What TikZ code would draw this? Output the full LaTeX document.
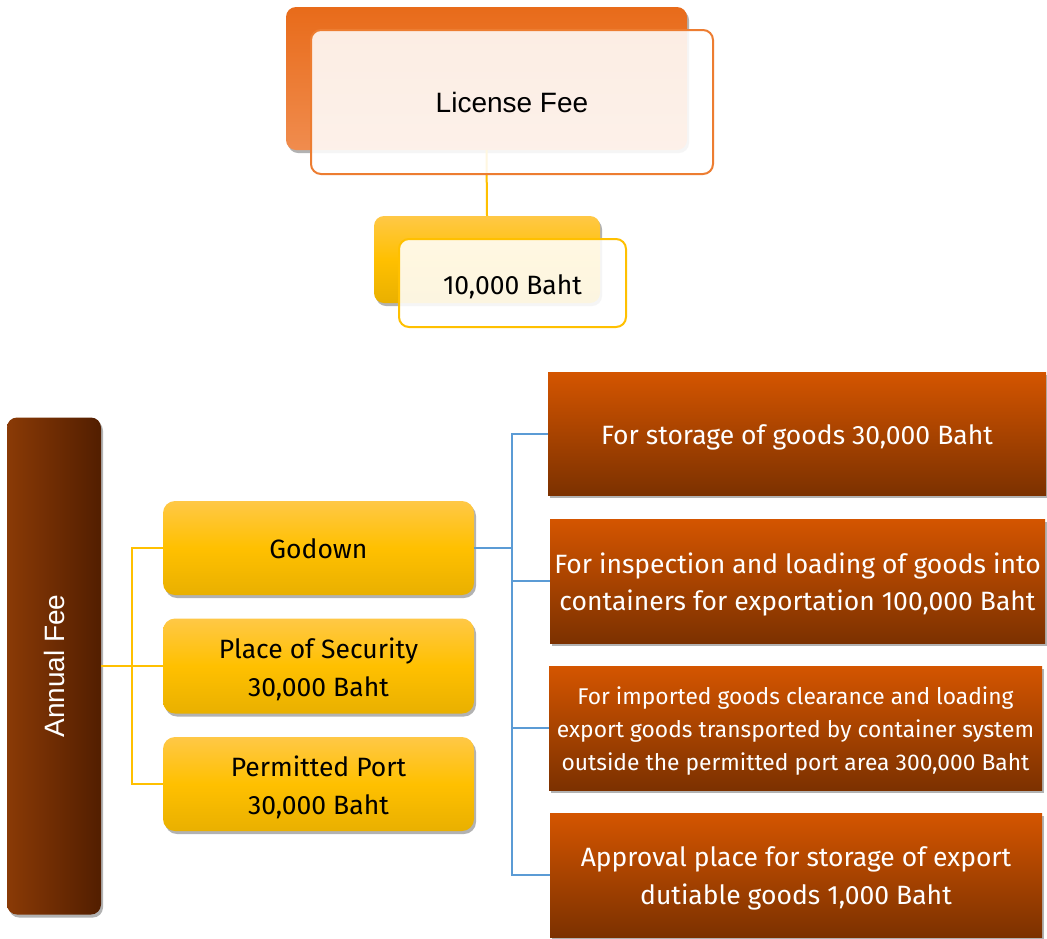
\documentclass[tikz,border=0pt]{standalone}
\usepackage{fontspec}
\setmainfont{Liberation Sans}
\newfontfamily\boxfont{Fira Sans}
\usetikzlibrary{shadows,calc}

\definecolor{orangeTop}{HTML}{E86B1A}
\definecolor{orangeBot}{HTML}{F08C4E}
\definecolor{orangeLine}{HTML}{ED7D31}
\definecolor{goldTop}{HTML}{FFC846}
\definecolor{goldMid}{HTML}{FFC000}
\definecolor{goldBot}{HTML}{E9B000}
\definecolor{goldLine}{HTML}{FFC000}
\definecolor{blueLine}{HTML}{5B9BD5}
\definecolor{brownL}{HTML}{8A3A06}
\definecolor{brownR}{HTML}{521E00}
\definecolor{rustTop}{HTML}{D45500}
\definecolor{rustBot}{HTML}{7C3100}

\tikzset{
  softshadow/.style={drop shadow={shadow xshift=2pt,shadow yshift=-3pt,opacity=0.3,fill=black}},
  backcard/.style={rounded corners=10pt,softshadow,inner sep=0pt},
  frontcard/.style={rounded corners=10pt,line width=2pt,fill=white,fill opacity=0.88,
    inner sep=0pt},
  goldbox/.style={rounded corners=12pt,top color=goldTop,bottom color=goldBot,middle color=goldMid,
    softshadow,minimum width=311pt,inner sep=0pt},
  rustbox/.style={top color=rustTop,bottom color=rustBot,softshadow,inner sep=0pt,
    minimum height=124pt},
  % captions sit a little below the geometric centre of their boxes
  caption/.style={align=center,inner sep=0pt,yshift=-3pt,font=\boxfont\fontsize{26.5}{38}\selectfont},
  goldwire/.style={draw=goldLine,line width=2pt},
  bluewire/.style={draw=blueLine,line width=2pt},
}

\begin{document}
\begin{tikzpicture}[x=1pt,y=-1pt]
\useasboundingbox[fill=white] (0,0) rectangle (1047,938);

% ---- license fee ----
\node[backcard,top color=orangeTop,bottom color=orangeBot,minimum width=401pt,minimum height=143pt]
  (licback) at (486.5,78.5) {};
\node[backcard,top color=goldTop,bottom color=goldBot,middle color=goldMid,minimum width=226pt,minimum height=87pt]
  (feeback) at (487,259.5) {};
\draw[goldwire] (licback.south) -- (feeback.north);
\node[frontcard,draw=orangeLine,minimum width=402pt,minimum height=144pt] (licfront) at (512,102) {};
\node[font=\fontsize{28}{32}\selectfont] (lictext) at (licfront.center) {License Fee};
\node[frontcard,draw=goldLine,minimum width=227pt,minimum height=88pt] (feefront) at (512.5,283) {};
\node[caption,yshift=-1pt] (feetext) at (feefront.center) {10,000 Baht};

% ---- annual fee ----
\node[rounded corners=10pt,left color=brownL,right color=brownR,softshadow,
  minimum width=94pt,minimum height=497pt,inner sep=0pt] (annual) at (54,666) {};
\node[text=white,rotate=90,font=\fontsize{28}{32}\selectfont] (annualtxt) at (annual.center) {Annual Fee};

\node[goldbox,minimum height=94pt] (godown) at (318.5,548) {};
\node[goldbox,minimum height=95pt] (security) at (318.5,666) {};
\node[goldbox,minimum height=94pt] (port) at (318.5,784) {};
\node[caption,yshift=2pt] (godowntxt) at (godown.center) {Godown};
\node[caption] (securitytxt) at (security.center) {Place of Security\\30,000 Baht};
\node[caption] (porttxt) at (port.center) {Permitted Port\\30,000 Baht};

\draw[goldwire] (annual.east) -- (security.west);
\draw[goldwire] (godown.west) -- ++(-31,0) coordinate (gj) |- (port.west);

% ---- godown charges ----
\node[rustbox,minimum width=498pt,minimum height=123pt] (r1) at (797,433.5) {};
\node[rustbox,minimum width=495pt] (r2) at (797.5,581) {};
\node[rustbox,minimum width=493pt] (r3) at (795.5,728) {};
\node[rustbox,minimum width=492pt] (r4) at (796,875) {};

\node[caption,text=white,yshift=-1pt] (r1txt) at (r1.center) {For storage of goods 30,000 Baht};
\node[caption,text=white,font=\boxfont\fontsize{26.5}{37}\selectfont] (r2txt) at (r2.center)
  {For inspection and loading of goods into\\containers for exportation 100,000 Baht};
\node[caption,text=white,font=\boxfont\fontsize{22.8}{33}\selectfont] (r3txt) at (r3.center)
  {For imported goods clearance and loading\\export goods transported by container system\\outside the permitted port area 300,000 Baht};
\node[caption,text=white] (r4txt) at (r4.center)
  {Approval place for storage of export\\dutiable goods 1,000 Baht};

\draw[bluewire] (godown.east) -- ++(38,0) coordinate (bj);
\draw[bluewire] (r1.west) -| (bj) |- (r4.west);
\draw[bluewire] (bj |- r2.west) -- (r2.west);
\draw[bluewire] (bj |- r3.west) -- (r3.west);
\end{tikzpicture}
\end{document}
